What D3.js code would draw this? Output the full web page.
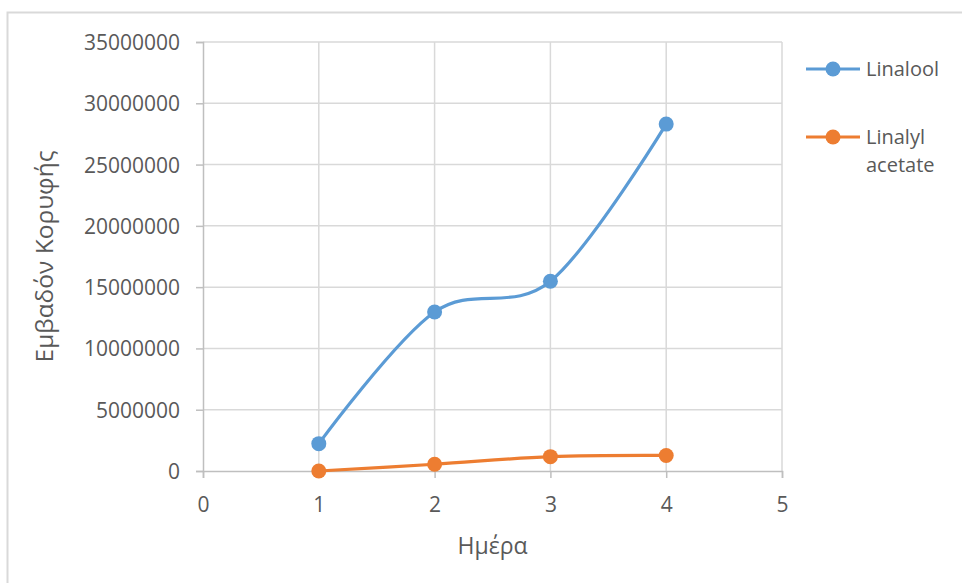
<!DOCTYPE html>
<html><head><meta charset="utf-8">
<script src="https://cdn.jsdelivr.net/npm/d3@7"></script>
<style>body{margin:0;background:#fff}text{font-family:"Open Sans",sans-serif;fill:#595959}</style>
</head><body><svg id="c" width="962" height="583"></svg>
<script>
const days = [1, 2, 3, 4];
const linalool = [2230000, 12970000, 15480000, 28300000];
const linalylAcetate = [0, 550000, 1170000, 1270000];
const seriesNames = ["Linalool", "Linalyl acetate"];
const colors = ["#5B9BD5", "#ED7D31"];
const xTicks = [0, 1, 2, 3, 4, 5];
const yTicks = [0, 5000000, 10000000, 15000000, 20000000, 25000000, 30000000, 35000000];

const svg = d3.select("#c");
// chart frame
svg.append("rect").attr("x", 7.5).attr("y", 12.5).attr("width", 1000).attr("height", 600)
  .attr("fill", "none").attr("stroke", "#d9d9d9").attr("stroke-width", 2);

const x = d3.scaleLinear().domain([0, 5]).range([203, 782]);
const y = d3.scaleLinear().domain([0, 35000000]).range([471, 42]);

// gridlines
svg.append("g").selectAll("line").data(yTicks.slice(1)).join("line")
  .attr("x1", x(0)).attr("x2", x(5)).attr("y1", d => y(d)).attr("y2", d => y(d))
  .attr("stroke", "#d9d9d9").attr("stroke-width", 1.5);
svg.append("g").selectAll("line").data(xTicks.slice(1)).join("line")
  .attr("x1", d => x(d)).attr("x2", d => x(d)).attr("y1", y(0)).attr("y2", y(35000000))
  .attr("stroke", "#d9d9d9").attr("stroke-width", 1.5);

// axes
const yAxis = svg.append("g").attr("transform", `translate(${x(0)},0)`)
  .call(d3.axisLeft(y).tickValues(yTicks).tickFormat(d3.format("d")).tickSize(7).tickPadding(16));
const xAxis = svg.append("g").attr("transform", `translate(0,${y(0)})`)
  .call(d3.axisBottom(x).tickValues(xTicks).tickFormat(d3.format("d")).tickSize(7).tickPadding(19));
[xAxis, yAxis].forEach(a => {
  a.select(".domain").attr("stroke", "#bfbfbf").attr("stroke-width", 1.5);
  a.selectAll(".tick line").attr("stroke", "#bfbfbf").attr("stroke-width", 1.5);
  a.selectAll(".tick text").style("font-size", "21px").attr("fill", "#595959").style("font-family", "'Open Sans',sans-serif");
});
yAxis.selectAll(".tick text").attr("dy", "0.357em");

// axis titles
svg.append("text").attr("x", x(2.5)).attr("y", 554).attr("text-anchor", "middle")
  .style("font-size", "23px").text("Ημέρα");
svg.append("text").attr("transform", `translate(53,${(y(0) + y(35000000)) / 2}) rotate(-90)`)
  .attr("text-anchor", "middle").style("font-size", "24.5px").text("Εμβαδόν Κορυφής");

// series
const allSeries = [linalool, linalylAcetate];
const line = d3.line().x((d, i) => x(days[i])).y(d => y(d)).curve(d3.curveCardinal.tension(0));
allSeries.forEach((vals, si) => {
  svg.append("path").datum(vals).attr("d", line).attr("fill", "none")
    .attr("stroke", colors[si]).attr("stroke-width", 3.2).attr("stroke-linecap", "round");
  svg.append("g").selectAll("circle").data(vals).join("circle")
    .attr("cx", (d, i) => x(days[i])).attr("cy", d => y(d)).attr("r", 7.5).attr("fill", colors[si]);
});

// legend
const leg = [{n: ["Linalool"], y: 69}, {n: ["Linalyl", "acetate"], y: 137}];
leg.forEach((l, i) => {
  svg.append("line").attr("x1", 806).attr("x2", 860).attr("y1", l.y).attr("y2", l.y)
    .attr("stroke", colors[i]).attr("stroke-width", 3.2);
  svg.append("circle").attr("cx", 833).attr("cy", l.y).attr("r", 7.5).attr("fill", colors[i]);
  const t = svg.append("text").attr("x", 866).attr("y", l.y + 7).style("font-size", "20px");
  l.n.forEach((s, k) => t.append("tspan").attr("x", 866).attr("dy", k ? 28 : 0).text(s));
});
</script></body></html>
